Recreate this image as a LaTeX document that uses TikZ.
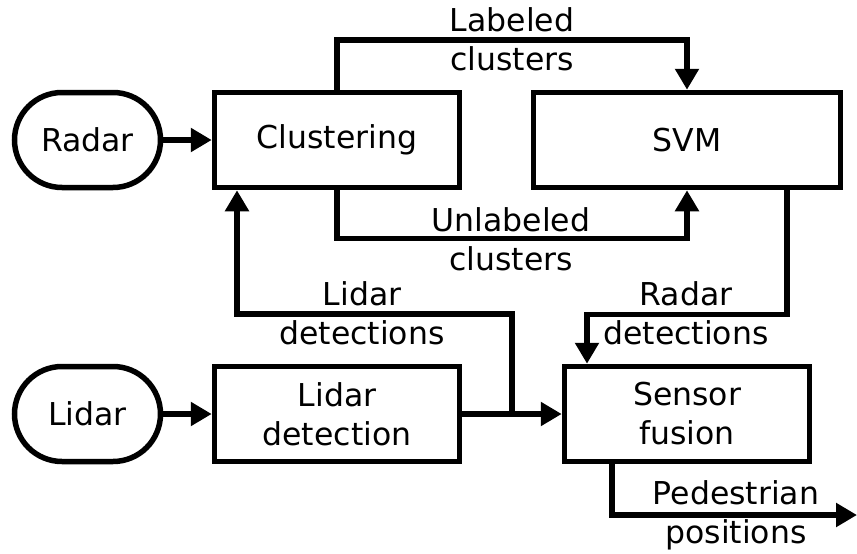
\documentclass[tikz,border=0pt]{standalone}
\usepackage{fontspec}
\setmainfont{DejaVu Sans}
\usetikzlibrary{arrows.meta,shapes.misc,calc}
\begin{document}
\begin{tikzpicture}[x=1pt,y=-1pt,
  every node/.style={font=\fontsize{31.5}{39}\selectfont},
  box/.style={draw,line width=5.5pt,rectangle,minimum width=245pt,minimum height=95pt,inner sep=0pt,align=center},
  term/.style={draw,line width=5.5pt,rounded rectangle,minimum width=146pt,minimum height=95pt,inner sep=0pt},
  lbl/.style={align=center,inner sep=0pt},
  arr/.style={line width=5.5pt,-{Triangle[length=21pt,width=23pt]}}]
\useasboundingbox (0,0) rectangle (857,554);
\node[term] (radar) at (87.5,140) {Radar};
\node[box] (clu) at (337,140) {Clustering};
\node[box,minimum width=307pt] (svm) at (687,140) {SVM};
\node[term] (lidar) at (87.5,414) {Lidar};
\node[box] (ldet) at (337,414) {Lidar\\detection};
\node[box] (fus) at (687,414) {Sensor\\fusion};
\coordinate (br) at ($(ldet.east)!0.5!(fus.west)$);
\coordinate (pend) at (857,515);

\draw[arr] (radar.east) -- (clu.west);
\draw[arr] (lidar.east) -- (ldet.west);
\draw[arr] (ldet.east) -- (fus.west);
\draw[arr] (clu.north) -- ++(0,-50) -| (svm.north);
\draw[arr] (clu.south) -- ++(0,48) -| (svm.south);
\draw[arr] ([xshift=100pt]svm.south) -- ++(0,124) -| ([xshift=-100pt]fus.north);
\draw[arr] (br) -- ++(0,-100) -| ([xshift=-100pt]clu.south);
\draw[arr] ([xshift=-75pt]fus.south) |- (pend);

\node[lbl] (l1) at (512,39.5) {Labeled\\clusters};
\node[lbl] (l2) at (511,239) {Unlabeled\\clusters};
\node[lbl] (l3) at (362,313.5) {Lidar\\detections};
\node[lbl] (l4) at (686,313.5) {Radar\\detections};
\node[lbl] (l5) at (736,515.5) {Pedestrian\\positions};
\end{tikzpicture}
\end{document}
